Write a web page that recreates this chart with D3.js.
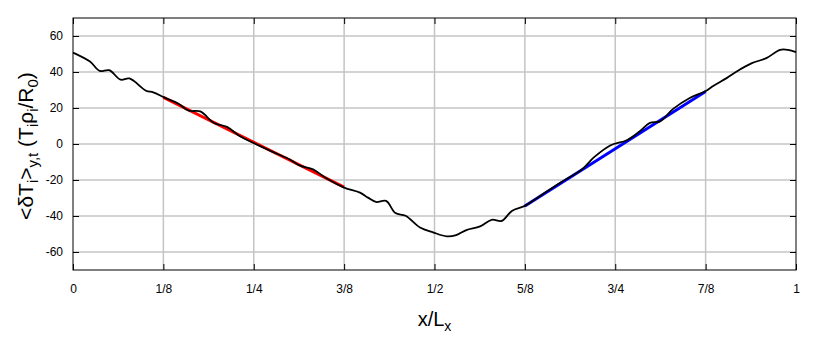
<!DOCTYPE html>
<html>
<head>
<meta charset="utf-8">
<script src="https://cdn.jsdelivr.net/npm/d3@7"></script>
<style>
body { margin: 0; background: #fff; }
text { font-family: "Liberation Sans", Arial, sans-serif; }
</style>
</head>
<body>
<div id="container"></div>
<script>
// plot area
var margin = {top: 18, right: 34, bottom: 74, left: 73},
	width = 830 - margin.left - margin.right,
	height = 344 - margin.top - margin.bottom;

// x ticks (fractions of Lx)
var xTicks = [0, 1/8, 1/4, 3/8, 1/2, 5/8, 3/4, 7/8, 1];
var xTickLabels = ["0", "1/8", "1/4", "3/8", "1/2", "5/8", "3/4", "7/8", "1"];
var yTicks = [-60, -40, -20, 0, 20, 40, 60];

// averaged temperature profile
var profX = [0, 0.0235, 0.037, 0.050, 0.066, 0.078, 0.101, 0.111, 0.126, 0.146, 0.160, 0.176,
	0.195, 0.213, 0.231, 0.249, 0.277, 0.300, 0.314, 0.332, 0.351, 0.375, 0.397, 0.408,
	0.419, 0.433, 0.446, 0.460, 0.480, 0.498, 0.517, 0.530, 0.544, 0.563, 0.579, 0.593,
	0.607, 0.625, 0.646, 0.674, 0.704, 0.720, 0.743, 0.766, 0.784, 0.798, 0.812, 0.830,
	0.853, 0.874, 0.886, 0.904, 0.918, 0.939, 0.959, 0.978, 0.989, 1.0];
var profY = [50.8, 45.8, 40.6, 41.0, 35.7, 36.4, 29.6, 28.7, 25.9, 22.4, 18.5, 18.1,
	11.7, 9.5, 4.3, 0.7, -4.5, -8.6, -12.0, -14.1, -19.2, -24.2, -27.0, -29.8,
	-32.2, -31.6, -38.4, -39.9, -46.4, -49.1, -51.3, -50.6, -47.8, -45.8, -42.1, -42.7,
	-37.2, -34.4, -28.9, -21.5, -14.1, -7.6, -0.8, 2.1, 7.1, 11.7, 12.6, 19.5,
	25.6, 29.2, 32.4, 36.6, 40.3, 44.9, 47.7, 52.3, 52.3, 51.0];

// linear fits
var fitRedX = [1/8, 3/8];
var fitRedY = [25.9, -24.0];
var fitBlueX = [5/8, 7/8];
var fitBlueY = [-34.4, 29.2];

var svg = d3.select("#container").append("svg")
	.attr("width", 830)
	.attr("height", 344)
	.append("g")
	.attr("transform", "translate(" + margin.left + "," + margin.top + ")");

var x = d3.scaleLinear().domain([0, 1]).range([0, width]);
var y = d3.scaleLinear().domain([-70, 70]).range([height, 0]);

// grid
svg.append("g").selectAll("line").data(xTicks.slice(1, -1)).enter()
	.append("line")
	.attr("x1", function(d) { return x(d); })
	.attr("x2", function(d) { return x(d); })
	.attr("y1", 0).attr("y2", height)
	.style("stroke", "#c4c4c4").style("stroke-width", 1.5);
svg.append("g").selectAll("line").data(yTicks).enter()
	.append("line")
	.attr("x1", 0).attr("x2", width)
	.attr("y1", function(d) { return y(d); })
	.attr("y2", function(d) { return y(d); })
	.style("stroke", "#c4c4c4").style("stroke-width", 1.5);

// axes with inward ticks
var xAxis = d3.axisBottom(x).tickValues(xTicks)
	.tickFormat(function(d, i) { return xTickLabels[i]; })
	.tickSizeInner(-6).tickSizeOuter(0).tickPadding(14);
var xTop = d3.axisTop(x).tickValues(xTicks).tickFormat("").tickSizeInner(-6).tickSizeOuter(0);
var yAxis = d3.axisLeft(y).tickValues(yTicks)
	.tickFormat(function(d) { return String(d); })
	.tickSizeInner(-6).tickSizeOuter(0).tickPadding(10);
var yRight = d3.axisRight(y).tickValues(yTicks).tickFormat("").tickSizeInner(-6).tickSizeOuter(0);

svg.append("g").attr("class", "axis").attr("transform", "translate(0," + height + ")").call(xAxis);
svg.append("g").attr("class", "axis").call(xTop);
svg.append("g").attr("class", "axis").call(yAxis);
svg.append("g").attr("class", "axis").attr("transform", "translate(" + width + ",0)").call(yRight);
svg.selectAll(".axis .domain").remove();
svg.selectAll(".axis text").style("font-size", "12px").style("fill", "#000")
	.style("font-family", "'Liberation Sans', Arial, sans-serif");
svg.selectAll(".axis line").style("stroke", "#000");

// frame
svg.append("rect")
	.attr("x", 0).attr("y", 0)
	.attr("width", width).attr("height", height)
	.style("fill", "none").style("stroke", "#000").style("stroke-width", 1);

var line = d3.line()
	.x(function(d) { return x(d[0]); })
	.y(function(d) { return y(d[1]); });

svg.append("path")
	.datum(d3.zip(fitRedX, fitRedY))
	.attr("d", line)
	.style("fill", "none").style("stroke", "#ff0000").style("stroke-width", 3);
svg.append("path")
	.datum(d3.zip(fitBlueX, fitBlueY))
	.attr("d", line)
	.style("fill", "none").style("stroke", "#0000ff").style("stroke-width", 3);

svg.append("path")
	.datum(d3.zip(profX, profY))
	.attr("d", line.curve(d3.curveCatmullRom))
	.style("fill", "none").style("stroke", "#000").style("stroke-width", 1.8);

// axis labels
var xl = svg.append("text")
	.attr("x", width / 2)
	.attr("y", height + 56)
	.style("text-anchor", "middle")
	.style("font-size", "20px");
xl.append("tspan").text("x/L");
xl.append("tspan").attr("dy", 5).style("font-size", "14px").text("x");

var yl = svg.append("text")
	.attr("transform", "translate(-40," + (height / 2 + 2) + ") rotate(-90)")
	.style("text-anchor", "middle")
	.style("font-size", "21px");
yl.append("tspan").text("<δT");
yl.append("tspan").attr("dy", 5).style("font-size", "15px").text("i");
yl.append("tspan").attr("dy", -5).text(">");
yl.append("tspan").attr("dy", 5).style("font-size", "15px").text("y,t");
yl.append("tspan").attr("dy", -5).text(" (T");
yl.append("tspan").attr("dy", 5).style("font-size", "15px").text("i");
yl.append("tspan").attr("dy", -5).text("ρ");
yl.append("tspan").attr("dy", 5).style("font-size", "15px").text("i");
yl.append("tspan").attr("dy", -5).text("/R");
yl.append("tspan").attr("dy", 5).style("font-size", "15px").text("0");
yl.append("tspan").attr("dy", -5).text(")");
</script>
</body>
</html>
